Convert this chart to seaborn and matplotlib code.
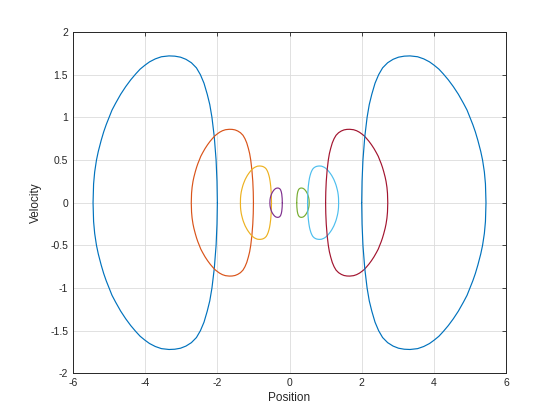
import numpy as np
import pandas as pd
import matplotlib
matplotlib.use('Agg')
import matplotlib.pyplot as plt
import seaborn as sns

# upper halves of the right-hand orbits (position, velocity);
# the picture is symmetric in velocity and the left orbits mirror the right ones
big_x = [2.00, 2.01, 2.035, 2.085, 2.15, 2.21, 2.28, 2.37, 2.47, 2.58, 2.72, 2.87,
         3.02, 3.18, 3.34, 3.55, 3.72, 3.88, 4.01, 4.14, 4.26, 4.40, 4.54, 4.68,
         4.82, 4.92, 5.00, 5.08, 5.15, 5.22, 5.30, 5.35, 5.40, 5.43, 5.445]
big_v = [0.00, 0.25, 0.50, 0.77, 1.00, 1.15, 1.27, 1.40, 1.50, 1.58, 1.64, 1.68,
         1.705, 1.717, 1.72, 1.71, 1.685, 1.65, 1.61, 1.565, 1.51, 1.44, 1.36, 1.27,
         1.165, 1.085, 1.00, 0.915, 0.83, 0.73, 0.60, 0.50, 0.36, 0.22, 0.00]
mid_x = [1.00, 1.005, 1.018, 1.043, 1.075, 1.105, 1.14, 1.185, 1.235, 1.29, 1.36,
         1.435, 1.51, 1.59, 1.67, 1.775, 1.86, 1.94, 2.005, 2.07, 2.13, 2.20,
         2.27, 2.34, 2.41, 2.46, 2.50, 2.54, 2.575, 2.61, 2.65, 2.675, 2.70,
         2.715, 2.723]
mid_v = [0.00, 0.125, 0.25, 0.385, 0.50, 0.575, 0.635, 0.70, 0.75, 0.79, 0.82,
         0.84, 0.853, 0.859, 0.86, 0.855, 0.843, 0.825, 0.805, 0.783, 0.755, 0.72,
         0.68, 0.635, 0.583, 0.543, 0.50, 0.458, 0.415, 0.365, 0.30, 0.25, 0.18,
         0.11, 0.00]
small_x = [0.50, 0.503, 0.509, 0.521, 0.538, 0.553, 0.57, 0.593, 0.618, 0.645,
           0.68, 0.718, 0.755, 0.795, 0.835, 0.888, 0.93, 0.97, 1.003, 1.035,
           1.065, 1.10, 1.135, 1.17, 1.205, 1.23, 1.25, 1.27, 1.288, 1.305,
           1.325, 1.338, 1.35, 1.358, 1.361]
small_v = [0.00, 0.063, 0.125, 0.193, 0.25, 0.288, 0.318, 0.35, 0.375, 0.395,
           0.41, 0.42, 0.426, 0.429, 0.43, 0.428, 0.421, 0.413, 0.403, 0.391,
           0.378, 0.36, 0.34, 0.318, 0.291, 0.271, 0.25, 0.229, 0.208, 0.183,
           0.15, 0.125, 0.09, 0.055, 0.00]
tiny_x = [0.20, 0.2035, 0.215, 0.228, 0.247, 0.272, 0.302, 0.334, 0.372, 0.401,
          0.426, 0.454, 0.482, 0.50, 0.515, 0.53, 0.54, 0.5445]
tiny_v = [0.00, 0.05, 0.10, 0.127, 0.15, 0.164, 0.1705, 0.172, 0.1685, 0.161,
          0.151, 0.136, 0.1165, 0.10, 0.083, 0.06, 0.036, 0.00]

# drawing order as in the original (left side outer->inner, then right inner->outer)
orbits = [(big_x, big_v, -1), (mid_x, mid_v, -1), (small_x, small_v, -1), (tiny_x, tiny_v, -1),
          (tiny_x, tiny_v, 1), (small_x, small_v, 1), (mid_x, mid_v, 1), (big_x, big_v, 1)]
colors = ['#0072BD', '#D95319', '#EDB120', '#7E2F8E', '#77AC30', '#4DBEEE', '#A2142F', '#0072BD']

x_ticks = [-6, -4, -2, 0, 2, 4, 6]
y_ticks = [-2, -1.5, -1, -0.5, 0, 0.5, 1, 1.5, 2]

sns.set_style('white')
plt.rcParams['font.family'] = ['Liberation Sans', 'DejaVu Sans']

fig = plt.figure(figsize=(5.6, 4.2), dpi=100)
ax = fig.add_axes([0.1304, 0.111, 0.7732, 0.8128])

for (xs, vs, side), c in zip(orbits, colors):
    xs = np.array(xs) * side
    vs = np.array(vs)
    # close the loop: upper half then lower half back
    df = pd.DataFrame({'Position': np.concatenate([xs, xs[::-1]]),
                       'Velocity': np.concatenate([vs, -vs[::-1]])})
    sns.lineplot(data=df, x='Position', y='Velocity', sort=False, estimator=None,
                 color=c, linewidth=0.85, ax=ax, solid_joinstyle='round')

ax.set_xlim(-6, 6)
ax.set_ylim(-2, 2)
ax.set_xticks(x_ticks)
ax.set_yticks(y_ticks)
ax.set_xticklabels([str(t) for t in x_ticks])
ax.set_yticklabels(['%g' % t for t in y_ticks])
ax.grid(True, color='#dcdcdc', linewidth=0.6)
ax.set_axisbelow(True)
ax.tick_params(direction='in', length=3, width=0.6, labelsize=7.5, colors='#262626',
               top=True, right=True)
for s in ax.spines.values():
    s.set_color('#262626')
    s.set_linewidth(0.7)
ax.set_xlabel('Position', fontsize=8.5, color='#262626', labelpad=3)
ax.set_ylabel('Velocity', fontsize=8.5, color='#262626', labelpad=6)

fig.savefig('out.png', dpi=100)
